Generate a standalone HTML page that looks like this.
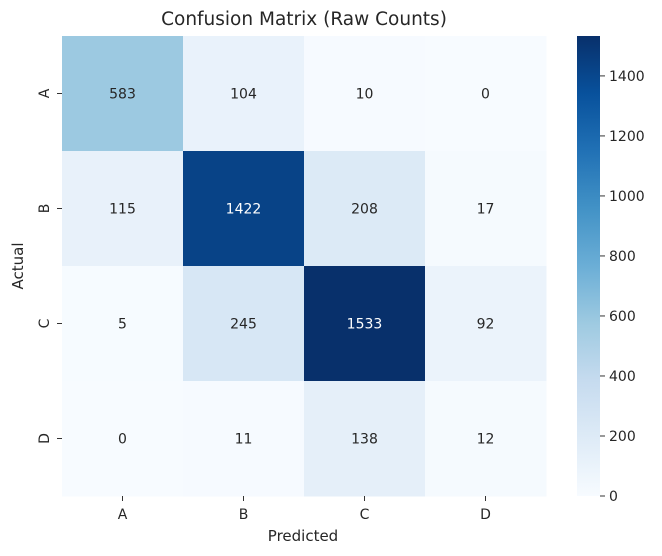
<!DOCTYPE html>
<html><head><meta charset="utf-8"><style>
body{margin:0;background:#fff;width:662px;height:551px;overflow:hidden}
svg text{font-family:"DejaVu Sans","Liberation Sans",sans-serif;fill:#262626}
</style></head><body>
<svg id="chart" width="662" height="551" xmlns="http://www.w3.org/2000/svg">
<defs><linearGradient id="cbgrad" x1="0" y1="1" x2="0" y2="0">
<stop offset="0" stop-color="#f7fbff"/><stop offset="0.125" stop-color="#deebf7"/><stop offset="0.25" stop-color="#c6dbef"/><stop offset="0.375" stop-color="#9ecae1"/><stop offset="0.5" stop-color="#6baed6"/><stop offset="0.625" stop-color="#4292c6"/><stop offset="0.75" stop-color="#2171b5"/><stop offset="0.875" stop-color="#08519c"/><stop offset="1" stop-color="#08306b"/></linearGradient></defs>
<text x="304" y="25" font-size="18.5" text-anchor="middle">Confusion Matrix (Raw Counts)</text>
<text x="303" y="541" font-size="15" text-anchor="middle">Predicted</text>
<text x="0" y="0" font-size="15" text-anchor="middle" transform="translate(23,266) rotate(-90)">Actual</text>
<g id="cells"></g>
<rect x="577" y="36" width="23" height="460" fill="url(#cbgrad)"/>
<g id="cbticks"></g>
</svg>
<script>
const categories=["A","B","C","D"];
const matrix=[[583,104,10,0],[115,1422,208,17],[5,245,1533,92],[0,11,138,12]];
const cbTicks=[0,200,400,600,800,1000,1200,1400];
const vmin=0, vmax=1533;
const X0=62,X1=546,Y0=36,Y1=496;
const cw=(X1-X0)/categories.length, ch=(Y1-Y0)/categories.length;
const stops=["#f7fbff","#deebf7","#c6dbef","#9ecae1","#6baed6","#4292c6","#2171b5","#08519c","#08306b"].map(h=>[parseInt(h.slice(1,3),16),parseInt(h.slice(3,5),16),parseInt(h.slice(5,7),16)]);
function color(v){let t=(v-vmin)/(vmax-vmin)*(stops.length-1);let i=Math.min(Math.floor(t),stops.length-2);let f=t-i;const a=stops[i],b=stops[i+1];return `rgb(${a.map((c,k)=>Math.round(c+(b[k]-c)*f)).join(',')})`;}
function xScale(i){return X0+i*cw;}
function yScale(i){return Y0+i*ch;}
function cbY(v){return Y1-(v-vmin)/(vmax-vmin)*(Y1-Y0);}
const NS="http://www.w3.org/2000/svg";
const g=document.getElementById('cells');
function mk(tag,attrs,parent){const e=document.createElementNS(NS,tag);for(const k in attrs)e.setAttribute(k,attrs[k]);parent.appendChild(e);return e;}
matrix.forEach((row,r)=>row.forEach((v,c)=>{
  const rect=mk('rect',{x:xScale(c),y:yScale(r),width:cw+0.5,height:ch+0.5,fill:color(v)},g);
  
  
  const t=mk('text',{x:xScale(c)+cw/2,y:yScale(r)+ch/2+5,'font-size':14,'text-anchor':'middle'},g);
  
  
  if(v>vmax*0.6)t.style.fill='#fff';
  t.textContent=v;
}));
categories.forEach((cat,i)=>{
  const xt=mk('text',{x:xScale(i)+cw/2,y:519,'font-size':14,'text-anchor':'middle'},g);
  
  
  xt.textContent=cat;
  mk('line',{x1:xScale(i)+cw/2,x2:xScale(i)+cw/2,y1:Y1,y2:Y1+5,stroke:'#333'},g);
  const yt=mk('text',{x:0,y:0,'font-size':14,'text-anchor':'middle',transform:`translate(${X0-13},${yScale(i)+ch/2}) rotate(-90)`},g);
  
  
  yt.textContent=cat;
  mk('line',{x1:X0-5,x2:X0,y1:yScale(i)+ch/2,y2:yScale(i)+ch/2,stroke:'#333'},g);
});
const cb=document.getElementById('cbticks');
cbTicks.forEach(v=>{
  mk('line',{x1:600,x2:605,y1:cbY(v),y2:cbY(v),stroke:'#333'},cb);
  const t=mk('text',{x:609,y:cbY(v)+5,'font-size':14},cb);
  
  
  t.textContent=v;
});
</script>
</body></html>
